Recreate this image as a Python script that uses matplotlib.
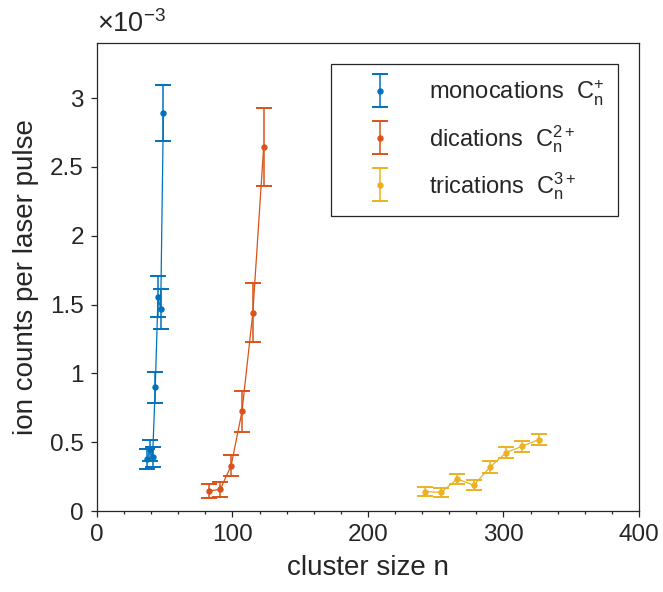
import matplotlib
matplotlib.use("Agg")
import matplotlib.pyplot as plt
from matplotlib.ticker import MultipleLocator, FuncFormatter
from matplotlib.container import ErrorbarContainer
from matplotlib.legend_handler import HandlerErrorbar

plt.rcParams['font.family'] = ['Liberation Sans', 'DejaVu Sans']
plt.rcParams['mathtext.fontset'] = 'custom'
plt.rcParams['mathtext.rm'] = 'Liberation Sans'
plt.rcParams['mathtext.it'] = 'Liberation Sans'
plt.rcParams['mathtext.bf'] = 'Liberation Sans:bold'

# ---- data (ion counts per laser pulse, in units of 1e-3) ----
mono_n = [37, 39, 41, 43, 45, 47, 49]
mono_y = [0.38, 0.44, 0.39, 0.898, 1.556, 1.469, 2.889]
mono_err = [0.073, 0.078, 0.073, 0.112, 0.149, 0.145, 0.204]

di_n = [83, 91, 99, 107, 115, 123]
di_y = [0.146, 0.158, 0.330, 0.723, 1.440, 2.644]
di_err = [0.051, 0.055, 0.074, 0.152, 0.213, 0.284]

tri_n = [242, 254, 266, 278, 290, 302, 314, 326]
tri_y = [0.141, 0.136, 0.233, 0.187, 0.318, 0.425, 0.471, 0.519]
tri_err = [0.031, 0.032, 0.038, 0.035, 0.044, 0.041, 0.040, 0.043]

labels = [r'monocations  C$_\mathrm{n}^{+}$',
          r'dications  C$_\mathrm{n}^{2+}$',
          r'trications  C$_\mathrm{n}^{3+}$']
colors = ['#0072BD', '#D95319', '#EDB120']

TXT = '#262626'

fig = plt.figure(figsize=(6.63, 5.92), dpi=100)
ax = fig.add_axes([0.1463, 0.1368, 0.8175, 0.7906])

series = [(mono_n, mono_y, mono_err), (di_n, di_y, di_err), (tri_n, tri_y, tri_err)]
handles = []
for (n, y, e), c, lab in zip(series, colors, labels):
    ax.plot(n, y, '-', color=c, lw=0.9, zorder=2)
    h = ax.errorbar(n, y, yerr=e, fmt='o', color=c, ms=3.6, elinewidth=1.1,
                    capsize=6, capthick=1.4, label=lab, zorder=3)
    handles.append(h)

ax.set_xlim(0, 400)
ax.set_ylim(0, 3.4)
ax.xaxis.set_major_locator(MultipleLocator(100))
ax.xaxis.set_minor_locator(MultipleLocator(20))
ax.yaxis.set_major_locator(MultipleLocator(0.5))
ax.yaxis.set_major_formatter(FuncFormatter(lambda v, p: '%g' % round(v, 3)))

ax.tick_params(axis='both', which='both', direction='out', top=False, right=False,
               labelsize=17.5, colors=TXT, width=0.9)
ax.tick_params(axis='both', which='major', length=4.5, pad=5)
ax.tick_params(axis='x', which='minor', length=2.5)
ax.tick_params(axis='y', which='minor', left=False)
for s in ax.spines.values():
    s.set_linewidth(0.9)
    s.set_color(TXT)

ax.set_xlabel('cluster size n', fontsize=20, color=TXT, labelpad=6)
ax.set_ylabel('ion counts per laser pulse', fontsize=20, color=TXT, labelpad=8)

ax.text(0.0, 1.01, r'$\times$10$^{\mathregular{-3}}$', transform=ax.transAxes,
        ha='left', va='bottom', fontsize=19.5, color=TXT)

leg = ax.legend(handles=handles, loc='upper right', bbox_to_anchor=(0.961, 0.955),
                borderaxespad=0, fontsize=17, frameon=True, fancybox=False,
                edgecolor=TXT, framealpha=1, handlelength=3.0, handletextpad=0.55,
                borderpad=0.6, labelspacing=0.65,
                handler_map={ErrorbarContainer: HandlerErrorbar(xerr_size=0.5, yerr_size=0.7)})
leg.get_frame().set_linewidth(0.9)
for t in leg.get_texts():
    t.set_color(TXT)

fig.savefig('out.png', dpi=100)
